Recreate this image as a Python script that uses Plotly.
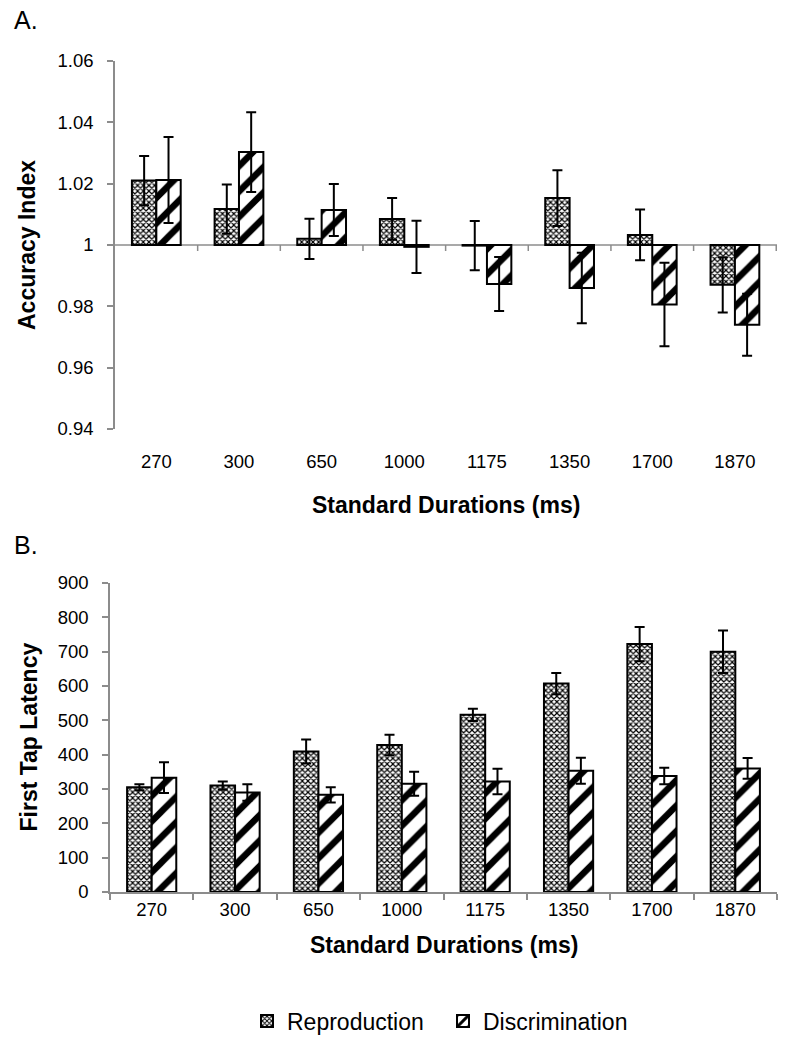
import plotly.graph_objects as go
from plotly.subplots import make_subplots

# 标准时长类别
durations = ["270", "300", "650", "1000", "1175", "1350", "1700", "1870"]

# A: Accuracy Index (均值与误差)
acc_repro = [1.021, 1.0117, 1.002, 1.0085, 0.9998, 1.0153, 1.0033, 0.987]
acc_repro_err = [0.008, 0.008, 0.0066, 0.0068, 0.008, 0.0091, 0.0083, 0.009]
acc_discr = [1.0212, 1.0303, 1.0114, 0.9994, 0.9873, 0.986, 0.9806, 0.974]
acc_discr_err = [0.014, 0.013, 0.0085, 0.0085, 0.0088, 0.0115, 0.0136, 0.0101]

# B: First Tap Latency
lat_repro = [305, 310, 409, 428, 516, 607, 722, 700]
lat_repro_err = [9, 12, 35, 30, 18, 31, 50, 62]
lat_discr = [333, 290, 283, 315, 322, 353, 338, 360]
lat_discr_err = [45, 24, 22, 35, 37, 38, 24, 30]

FONT = "Liberation Sans, Arial, sans-serif"
AXIS_GRAY = "#8c8c8c"

repro_style = dict(
    color="white",
    line=dict(color="black", width=2),
    pattern=dict(shape="x", size=4, solidity=0.5, fgcolor="black",
                 bgcolor="white", fgopacity=1),
)
discr_style = dict(
    color="white",
    line=dict(color="black", width=2),
    pattern=dict(shape="/", size=18, solidity=0.36, fgcolor="black",
                 bgcolor="white", fgopacity=1),
)


def err(vals):
    return dict(type="data", array=vals, color="black", thickness=2, width=5)


fig = make_subplots(rows=2, cols=1)

# 面板A：从1开始的柱子
fig.add_trace(go.Bar(x=durations, y=[v - 1 for v in acc_repro], base=1,
                     name="Reproduction", marker=repro_style,
                     error_y=err(acc_repro_err), showlegend=False), row=1, col=1)
fig.add_trace(go.Bar(x=durations, y=[v - 1 for v in acc_discr], base=1,
                     name="Discrimination", marker=discr_style,
                     error_y=err(acc_discr_err), showlegend=False), row=1, col=1)

# 面板B
fig.add_trace(go.Bar(x=durations, y=lat_repro, name="Reproduction",
                     marker=repro_style, error_y=err(lat_repro_err)), row=2, col=1)
fig.add_trace(go.Bar(x=durations, y=lat_discr, name="Discrimination",
                     marker=discr_style, error_y=err(lat_discr_err)), row=2, col=1)

W, H = 807, 1050
a_dom_x = [115 / W, 777 / W]
b_dom_x = [110 / W, 777 / W]
a_dom_y = [1 - 429 / H, 1 - 61 / H]
b_dom_y = [1 - 892 / H, 1 - 583 / H]

tick_font = dict(family=FONT, size=18.5, color="black")
title_font = dict(family=FONT, size=23, color="black")

fig.update_xaxes(automargin=False)
fig.update_yaxes(automargin=False)

fig.update_xaxes(domain=a_dom_x, showline=False, ticks="", tickfont=tick_font,
                 ticklabelstandoff=19, row=1, col=1)
fig.update_yaxes(domain=a_dom_y, range=[0.94, 1.06], dtick=0.02, showgrid=False,
                 zeroline=False, showline=True, linecolor=AXIS_GRAY, linewidth=1.5,
                 ticks="outside", ticklen=6, tickcolor=AXIS_GRAY, tickwidth=1.5,
                 tickfont=tick_font, ticklabelstandoff=10, row=1, col=1)
fig.update_xaxes(domain=b_dom_x, showline=True, linecolor=AXIS_GRAY, linewidth=1.5,
                 ticks="outside", tickson="boundaries", ticklen=6, tickcolor=AXIS_GRAY,
                 tickwidth=1.5, tickfont=tick_font, row=2, col=1)
fig.update_yaxes(domain=b_dom_y, range=[0, 900], dtick=100, showgrid=False,
                 zeroline=False, showline=True, linecolor=AXIS_GRAY, linewidth=1.5,
                 ticks="outside", ticklen=6, tickcolor=AXIS_GRAY, tickwidth=1.5,
                 tickfont=tick_font, ticklabelstandoff=10, row=2, col=1)

# 面板A中 y=1 处的横轴线及分隔刻度
fig.add_shape(type="line", xref="x domain", yref="y", x0=0, x1=1, y0=1, y1=1,
              line=dict(color=AXIS_GRAY, width=1.5), layer="below")
for i in range(len(durations)):
    fig.add_shape(type="line", xref="x", yref="y", x0=i + 0.5, x1=i + 0.5,
                  ysizemode="pixel", yanchor=1, y0=0, y1=-6,
                  line=dict(color=AXIS_GRAY, width=1.5))

# 标题与标注
fig.add_annotation(text="A.", xref="paper", yref="paper", x=12 / W, y=1 - 20 / H,
                   xanchor="left", yanchor="middle", showarrow=False,
                   font=dict(family=FONT, size=25, color="black"))
fig.add_annotation(text="B.", xref="paper", yref="paper", x=12 / W, y=1 - 545 / H,
                   xanchor="left", yanchor="middle", showarrow=False,
                   font=dict(family=FONT, size=25, color="black"))
fig.add_annotation(text="<b>Standard Durations (ms)</b>", xref="paper", yref="paper",
                   x=sum(a_dom_x) / 2, y=1 - 505 / H, xanchor="center", yanchor="middle",
                   showarrow=False, font=title_font)
fig.add_annotation(text="<b>Standard Durations (ms)</b>", xref="paper", yref="paper",
                   x=sum(b_dom_x) / 2, y=1 - 945 / H, xanchor="center", yanchor="middle",
                   showarrow=False, font=title_font)
fig.add_annotation(text="<b>Accuracy Index</b>", xref="paper", yref="paper",
                   x=27 / W, y=sum(a_dom_y) / 2, xanchor="center", yanchor="middle",
                   textangle=-90, showarrow=False, font=title_font)
fig.add_annotation(text="<b>First Tap Latency</b>", xref="paper", yref="paper",
                   x=28 / W, y=sum(b_dom_y) / 2, xanchor="center", yanchor="middle",
                   textangle=-90, showarrow=False, font=title_font)

fig.update_layout(
    width=W, height=H,
    margin=dict(l=0, r=0, t=0, b=0),
    paper_bgcolor="white", plot_bgcolor="white",
    barmode="group", bargap=0.41, bargroupgap=0,
    font=dict(family=FONT, color="black"),
    legend=dict(orientation="h", x=247 / W, y=1 - 1021 / H, xanchor="left",
                yanchor="middle", entrywidth=151,
                font=dict(family=FONT, size=23, color="black"),
                bgcolor="rgba(0,0,0,0)"),
)

# 去掉页面默认边距，让图从窗口左上角开始
fig.write_html("out.html", config={"displayModeBar": False},
               post_script="document.body.style.margin = '0';")
